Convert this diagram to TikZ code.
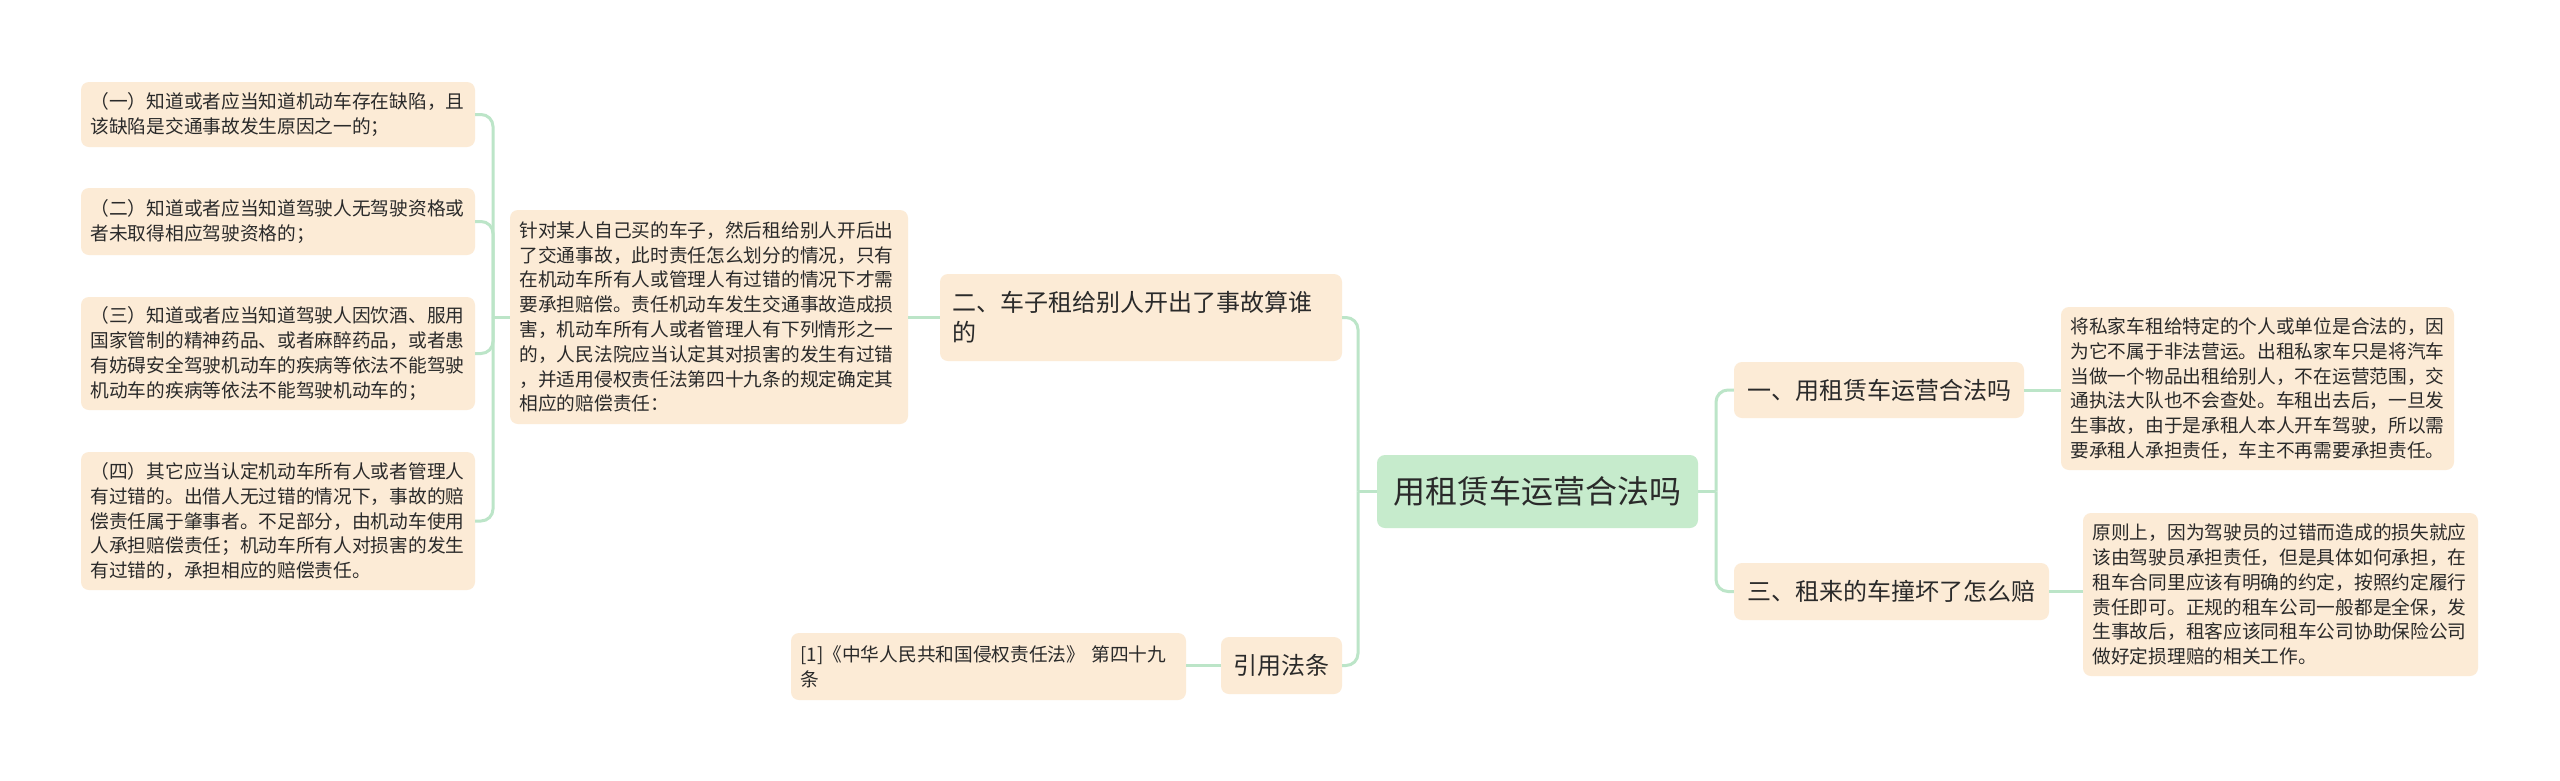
\documentclass[tikz,border=0pt]{standalone}
\usepackage{fontspec}
\setmainfont{Noto Sans CJK SC}
\definecolor{peach}{HTML}{FCEBD6}
\definecolor{rootg}{HTML}{C6EBCC}
\definecolor{lineg}{HTML}{BCE5C8}
\definecolor{txt}{HTML}{2A2A2A}
\begin{document}
\begin{tikzpicture}[x=1pt,y=-1pt,
  box/.style={rounded corners=8pt, fill=peach, text=txt, inner ysep=0pt, anchor=center},
  leaf/.style n args={2}{box, inner xsep=9.5pt, align=left, text width=#1-19pt, minimum width=#1, minimum height=#2, font=\fontsize{18.7}{24.8}\selectfont},
  branch/.style n args={2}{box, inner xsep=12pt, align=left, minimum width=#1, minimum height=#2, font=\fontsize{24}{30}\selectfont},
  rootbox/.style={box, fill=rootg, minimum width=321pt, minimum height=73pt, font=\fontsize{32}{36}\selectfont},
  conn/.style={draw=lineg, line width=3pt},
  rc/.style={conn, rounded corners=12pt}]
\useasboundingbox (0,0) rectangle (2560,780);
\fill[white] (0,0) rectangle (2560,780);

% root
\node[rootbox] (root) at (1537.5,491.5) {用租赁车运营合法吗};

% right side
\node[branch={290pt}{56pt}] (b1) at (1879,390) {一、用租赁车运营合法吗};
\node[leaf={393pt}{163pt}] (l1) at (2257.5,388.5) {将私家车租给特定的个人或单位是合法的，因\\为它不属于非法营运。出租私家车只是将汽车\\当做一个物品出租给别人，不在运营范围，交\\通执法大队也不会查处。车租出去后，一旦发\\生事故，由于是承租人本人开车驾驶，所以需\\要承租人承担责任，车主不再需要承担责任。};
\node[branch={315pt}{57pt}] (b3) at (1891.5,591.5) {三、租来的车撞坏了怎么赔};
\node[leaf={395pt}{163pt}] (l3) at (2280.5,594.5) {原则上，因为驾驶员的过错而造成的损失就应\\该由驾驶员承担责任，但是具体如何承担，在\\租车合同里应该有明确的约定，按照约定履行\\责任即可。正规的租车公司一般都是全保，发\\生事故后，租客应该同租车公司协助保险公司\\做好定损理赔的相关工作。};

% left side
\node[branch={402pt}{87pt}, text width=378pt] (b2) at (1141,317.5) {二、车子租给别人开出了事故算谁\\的};
\node[leaf={398pt}{214pt}] (m) at (709,317) {针对某人自己买的车子，然后租给别人开后出\\了交通事故，此时责任怎么划分的情况，只有\\在机动车所有人或管理人有过错的情况下才需\\要承担赔偿。责任机动车发生交通事故造成损\\害，机动车所有人或者管理人有下列情形之一\\的，人民法院应当认定其对损害的发生有过错\\，并适用侵权责任法第四十九条的规定确定其\\相应的赔偿责任：};
\node[leaf={394pt}{65pt}] (k1) at (278,114.5) {（一）知道或者应当知道机动车存在缺陷，且\\该缺陷是交通事故发生原因之一的；};
\node[leaf={394pt}{67pt}] (k2) at (278,221.5) {（二）知道或者应当知道驾驶人无驾驶资格或\\者未取得相应驾驶资格的；};
\node[leaf={394pt}{113pt}] (k3) at (278,353.5) {（三）知道或者应当知道驾驶人因饮酒、服用\\国家管制的精神药品、或者麻醉药品，或者患\\有妨碍安全驾驶机动车的疾病等依法不能驾驶\\机动车的疾病等依法不能驾驶机动车的；};
\node[leaf={394pt}{138pt}] (k4) at (278,521) {（四）其它应当认定机动车所有人或者管理人\\有过错的。出借人无过错的情况下，事故的赔\\偿责任属于肇事者。不足部分，由机动车使用\\人承担赔偿责任；机动车所有人对损害的发生\\有过错的，承担相应的赔偿责任。};
\node[branch={121pt}{57pt}] (ref) at (1281.5,665.5) {引用法条};
\node[leaf={395pt}{67pt}] (r1) at (988.5,666.5) {[1]《中华人民共和国侵权责任法》 第四十九\\条};

% junctions
\coordinate (jl) at (1358,491.5);
\coordinate (jr) at (1716,491.5);
\coordinate (jm) at (493,317);

% connectors
\draw[conn] (root.west) -- (jl);
\draw[rc] (jl) |- (b2.east);
\draw[rc] (jl) |- (ref.east);
\draw[conn] (root.east) -- (jr);
\draw[rc] (jr) |- (b1.west);
\draw[rc] (jr) |- (b3.west);
\draw[conn] (b1.east) -- (b1.east -| l1.west);
\draw[conn] (b3.east) -- (b3.east -| l3.west);
\draw[conn] (b2.west) -- (b2.west -| m.east);
\draw[conn] (ref.west) -- (ref.west -| r1.east);
\draw[conn] (m.west) -- (jm);
\draw[rc] (jm) |- (k1.east);
\draw[rc] (jm) |- (k2.east);
\draw[rc] (jm) |- (k3.east);
\draw[rc] (jm) |- (k4.east);
\end{tikzpicture}
\end{document}
